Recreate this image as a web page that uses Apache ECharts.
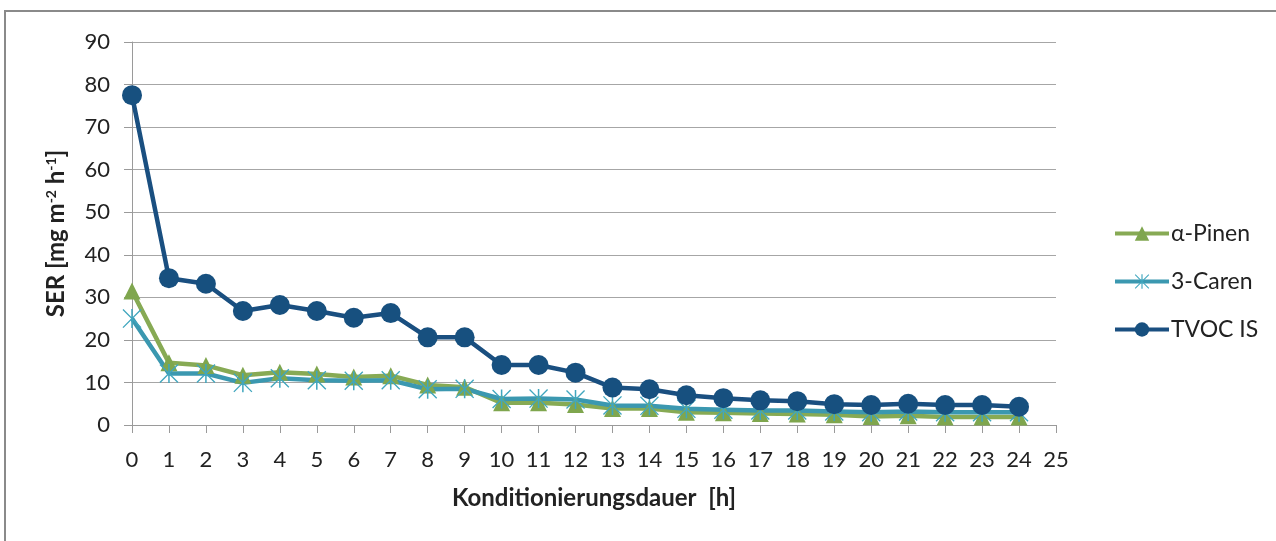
<!DOCTYPE html>
<html>
<head>
<meta charset="utf-8">
<script src="https://cdn.jsdelivr.net/npm/echarts@6/dist/echarts.min.js"></script>
<style>
  html, body { margin: 0; padding: 0; background: #fff; }
  #chart { width: 1276px; height: 541px; }
</style>
</head>
<body>
<div id="chart"></div>
<script>
// hours of conditioning
const hours = [0, 1, 2, 3, 4, 5, 6, 7, 8, 9, 10, 11, 12, 13, 14, 15, 16, 17, 18, 19, 20, 21, 22, 23, 24]

// SER values [mg m-2 h-1]
const pinen = [31.5, 14.6, 14.0, 11.7, 12.4, 12.0, 11.3, 11.6, 9.4, 8.9, 5.2, 5.2, 4.8, 3.9, 3.9, 3.0, 2.9, 2.7, 2.6, 2.4, 2.0, 2.2, 1.9, 1.9, 1.9]
const caren = [25.0, 12.1, 12.1, 9.9, 11.0, 10.5, 10.4, 10.5, 8.4, 8.5, 6.1, 6.2, 6.0, 4.6, 4.5, 3.8, 3.6, 3.4, 3.4, 3.2, 3.0, 3.2, 3.0, 3.0, 3.0]
const tvoc = [77.5, 34.5, 33.2, 26.8, 28.2, 26.8, 25.2, 26.3, 20.6, 20.6, 14.1, 14.1, 12.3, 8.8, 8.4, 7.0, 6.3, 5.8, 5.6, 4.9, 4.7, 5.0, 4.7, 4.7, 4.3]

const seriesNames = ['α-Pinen', '3-Caren', 'TVOC IS']

const font = 'Lato, "Open Sans", sans-serif'
const asterisk = 'path://M46 0L54 0L54 100L46 100Z M5 0L100 95L95 100L0 5Z M95 0L100 5L5 100L0 95Z'

const pair = (vals) => hours.map((h, i) => [h, vals[i]])

const chart = echarts.init(document.getElementById('chart'))

chart.setOption({
  animation: false,
  textStyle: { fontFamily: font },
  graphic: [{
    type: 'rect',
    shape: { x: 5, y: 11, width: 1400, height: 700 },
    style: { fill: 'none', stroke: '#8a8a8a', lineWidth: 2 },
    silent: true
  }],
  grid: { left: 132, right: 220, top: 42, bottom: 116 },
  legend: {
    orient: 'vertical',
    left: 1108,
    top: 217,
    itemGap: 25,
    itemWidth: 54,
    itemHeight: 18,
    data: seriesNames,
    lineStyle: { width: 4 },
    textStyle: { fontFamily: font, fontSize: 23, color: '#222', padding: [0, 0, 0, -3] }
  },
  xAxis: {
    type: 'value',
    min: 0,
    max: 25,
    interval: 1,
    name: 'Konditionierungsdauer  [h]',
    nameLocation: 'middle',
    nameGap: 61,
    nameTextStyle: { fontFamily: font, fontSize: 24, fontWeight: 'bold', color: '#222' },
    axisLine: { lineStyle: { color: '#9a9a9a', width: 1 } },
    axisTick: { show: true, length: 8, lineStyle: { color: '#9a9a9a' } },
    axisLabel: { fontFamily: font, fontSize: 22, color: '#222', margin: 24 },
    splitLine: { show: false }
  },
  yAxis: {
    type: 'value',
    min: 0,
    max: 90,
    interval: 10,
    name: '{b|SER [mg m}{s|-2}{b| h}{s|-1}{b|]}',
    nameLocation: 'middle',
    nameGap: 63,
    nameTextStyle: {
      rich: {
        b: { fontFamily: font, fontSize: 24, fontWeight: 'bold', color: '#222' },
        s: { fontFamily: font, fontSize: 14, fontWeight: 'bold', color: '#222', verticalAlign: 'top', padding: [0, 0, 11, 0] }
      }
    },
    axisLine: { show: true, lineStyle: { color: '#9a9a9a', width: 1 } },
    axisTick: { show: true, length: 8, lineStyle: { color: '#9a9a9a' } },
    axisLabel: { fontFamily: font, fontSize: 22, color: '#222', margin: 22 },
    splitLine: { lineStyle: { color: '#a6a6a6', width: 1 } }
  },
  series: [
    {
      name: seriesNames[0],
      type: 'line',
      data: pair(pinen),
      symbol: 'triangle',
      symbolSize: 17,
      lineStyle: { color: '#87aa54', width: 4.5 },
      itemStyle: { color: '#7fa64e' }
    },
    {
      name: seriesNames[1],
      type: 'line',
      data: pair(caren),
      symbol: asterisk,
      symbolSize: 19,
      lineStyle: { color: '#3b98b0', width: 4.5 },
      itemStyle: { color: '#40a6be' }
    },
    {
      name: seriesNames[2],
      type: 'line',
      data: pair(tvoc),
      symbol: 'circle',
      symbolSize: 20,
      lineStyle: { color: '#1a4f80', width: 4.5 },
      itemStyle: { color: '#17507f' }
    }
  ]
})
</script>
</body>
</html>
